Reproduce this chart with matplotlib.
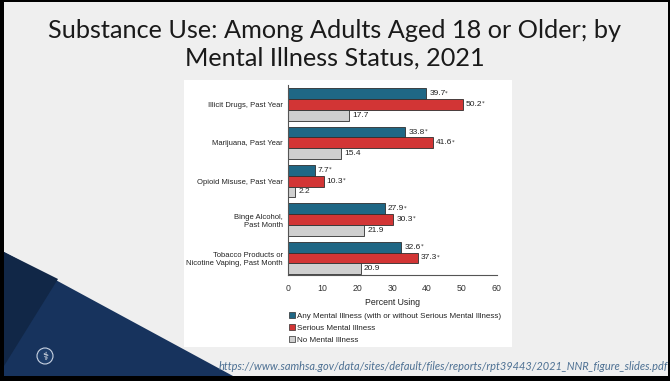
import matplotlib
matplotlib.use("Agg")
import matplotlib.pyplot as plt
from matplotlib.patches import Rectangle, Polygon, Circle, Patch

# ---- data ----
categories = [
    "Illicit Drugs, Past Year",
    "Marijuana, Past Year",
    "Opioid Misuse, Past Year",
    "Binge Alcohol,\nPast Month",
    "Tobacco Products or\nNicotine Vaping, Past Month",
]
any_mi = [39.7, 33.8, 7.7, 27.9, 32.6]
serious_mi = [50.2, 41.6, 10.3, 30.3, 37.3]
no_mi = [17.7, 15.4, 2.2, 21.9, 20.9]
series_names = [
    "Any Mental Illness (with or without Serious Mental Illness)",
    "Serious Mental Illness",
    "No Mental Illness",
]
significant = [True, True, False]
x_ticks = [0, 10, 20, 30, 40, 50, 60]
x_label = "Percent Using"
title_lines = ["Substance Use: Among Adults Aged 18 or Older; by",
               "Mental Illness Status, 2021"]
source_url = "https://www.samhsa.gov/data/sites/default/files/reports/rpt39443/2021_NNR_figure_slides.pdf"

colors = ["#1f6785", "#d23535", "#cfcfcf"]
edge = "#2e2e2e"
chart_font = "Liberation Sans"

W, H = 670, 381
fig = plt.figure(figsize=(W / 100, H / 100), dpi=100)
fig.patch.set_facecolor("black")

# ---- slide background (pixel coordinates) ----
bg = fig.add_axes([0, 0, 1, 1], zorder=0)
bg.set_xlim(0, W)
bg.set_ylim(H, 0)
bg.axis("off")
bg.add_patch(Rectangle((4, 2), W - 6, 374, facecolor="#efefef", edgecolor="none"))
bg.add_patch(Rectangle((184, 80), 328, 267, facecolor="white", edgecolor="none"))
bg.add_patch(Polygon([(4, 252), (233, 376), (4, 376)], closed=True,
                     facecolor="#17335d", edgecolor="none"))
bg.add_patch(Polygon([(4, 252), (58, 279), (4, 366)], closed=True,
                     facecolor="#112747", edgecolor="none"))
bg.add_patch(Circle((45, 356), 8, facecolor="#1d3d6a", edgecolor="#c9d3e2", lw=0.8))
bg.text(45, 356.5, "\u2695", color="white", fontsize=8, ha="center", va="center",
        family="DejaVu Sans")
for yy, line in zip([30, 58], title_lines):
    bg.text(335, yy, line, ha="center", va="center", fontsize=18.2, family="Lato",
            color="#1a1a1a")
bg.text(668, 366, source_url, ha="right", va="center", fontsize=7.9, family="Lato",
        style="italic", color="#4d7093")

# ---- bar chart ----
ax = fig.add_axes([287.7 / W, 1 - 275 / H, 209 / W, 190 / H], zorder=1)
ax.patch.set_alpha(0)
bar_h = 0.28
ypos = list(range(len(categories)))
series = [any_mi, serious_mi, no_mi]
value_texts = []
for k, (vals, col, sig) in enumerate(zip(series, colors, significant)):
    offs = [y + (k - 1) * bar_h for y in ypos]
    ax.barh(offs, vals, height=bar_h, color=col, edgecolor=edge, linewidth=0.6)
    for y, v in zip(offs, vals):
        t = ax.annotate(f"{v:.1f}", xy=(v, y), xytext=(2.3, 0), textcoords="offset points",
                        ha="left", va="center", fontsize=6.0, family=chart_font,
                        color="#222")
        value_texts.append((t, sig))

ax.set_ylim(4.445, -0.508)
ax.set_xlim(0, 60)
ax.set_xticks(x_ticks)
ax.set_xticklabels([str(t) for t in x_ticks], family=chart_font, fontsize=6.3, color="#333")
ax.set_yticks(ypos)
ax.set_yticklabels(categories, family=chart_font, fontsize=5.5, color="#222",
                   linespacing=1.3)
ax.tick_params(axis="both", length=0)
ax.tick_params(axis="x", pad=6.5)
ax.tick_params(axis="y", pad=3.5)
ax.set_xlabel(x_label, family=chart_font, fontsize=6.3, color="#222", labelpad=3.5)
for s in ["top", "right"]:
    ax.spines[s].set_visible(False)
for s in ["left", "bottom"]:
    ax.spines[s].set_color("#555555")
    ax.spines[s].set_linewidth(0.8)

handles = [Patch(facecolor=c, edgecolor=edge, linewidth=0.5) for c in colors]
leg = fig.legend(handles, series_names, loc="upper left",
                 bbox_to_anchor=(289 / W, 1 - 312 / H), frameon=False,
                 prop={"family": chart_font, "size": 5.8}, handlelength=0.75,
                 handleheight=0.75, handletextpad=0.3, labelspacing=0.55,
                 borderaxespad=0, borderpad=0)
for t in leg.get_texts():
    t.set_color("#222")

# significance markers: small raised asterisk right after each value label
fig.canvas.draw()
renderer = fig.canvas.get_renderer()
to_fig = fig.transFigure.inverted()
for t, sig in value_texts:
    if not sig:
        continue
    bb = t.get_window_extent(renderer)
    fx, fy = to_fig.transform((bb.x1 - 0.2, bb.y1 - 2.4))
    fig.text(fx, fy, "*", ha="left", va="center", fontsize=3.8,
             family="DejaVu Sans", color="#222", zorder=3)

fig.savefig("out.png", dpi=100, facecolor=fig.get_facecolor())
